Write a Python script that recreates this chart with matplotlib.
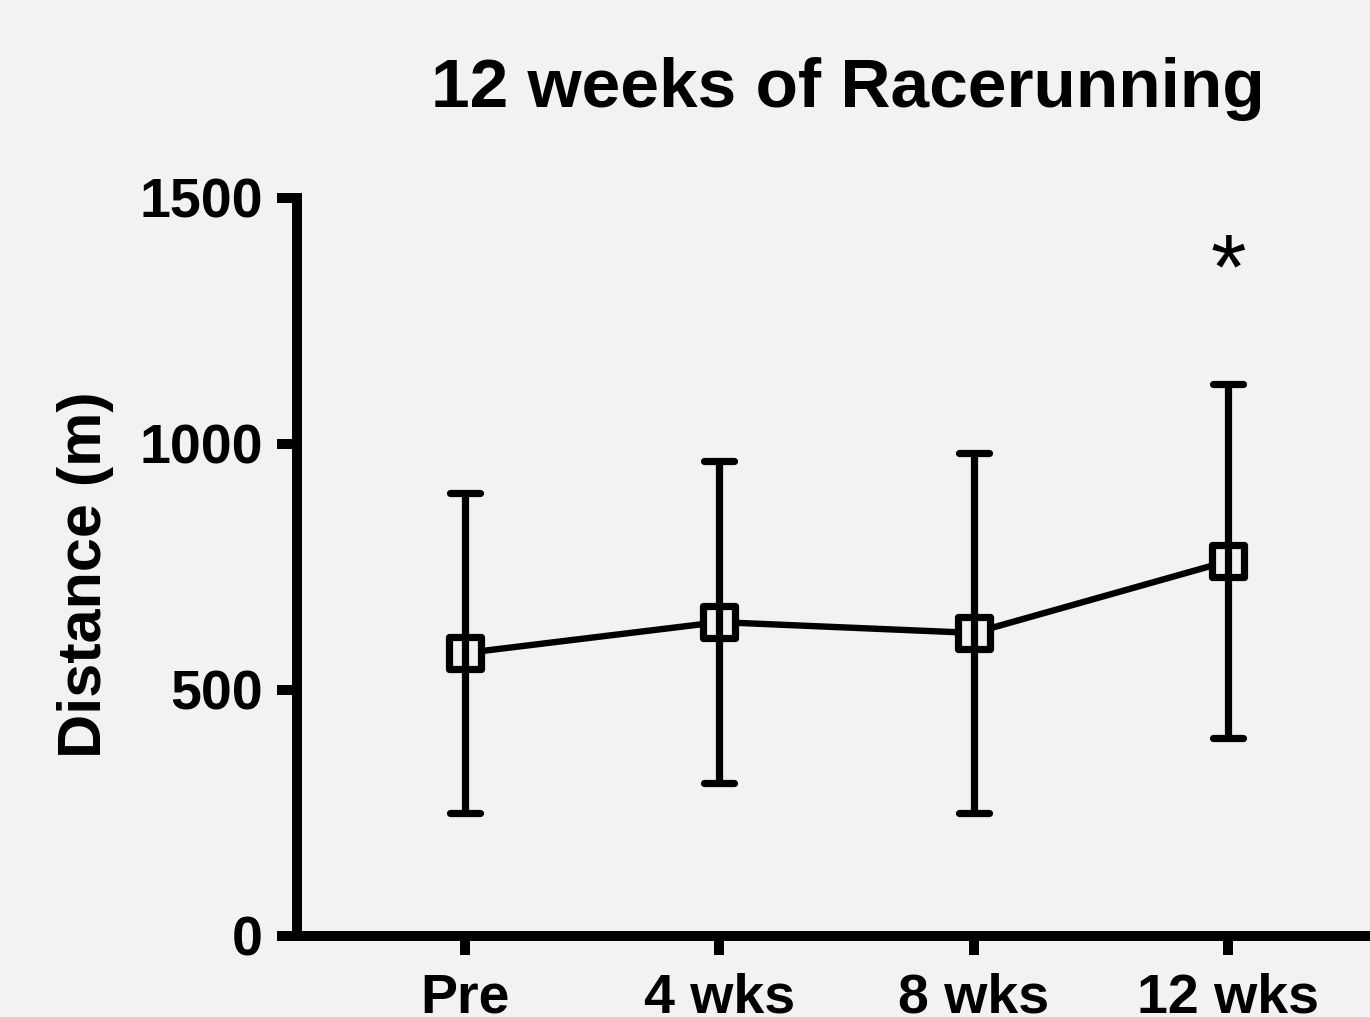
import numpy as np
import matplotlib.pyplot as plt
from matplotlib.markers import MarkerStyle

# =========================
# Data
# =========================
timepoints = ["Pre", "4 wks", "8 wks", "12 wks"]
distance_mean = [575, 638, 616, 762]   # m
distance_sd = [325, 327, 365, 360]     # m
significant = [False, False, False, True]
star_height = 1345

bg = "#f2f2f2"
plt.rcParams['font.family'] = ['Liberation Sans', 'DejaVu Sans']
plt.rcParams['font.weight'] = 'bold'

fig = plt.figure(figsize=(13.7, 10.17), dpi=100, facecolor=bg)
ax = fig.add_axes([297/1370, 1 - 936/1017, 1103/1370, 738/1017], facecolor=bg)

x = np.arange(len(timepoints))

# connecting line under everything
ax.plot(x, distance_mean, color='black', lw=4.6, zorder=2, solid_capstyle='round')

# open squares (filled with background so the line stops at the edge)
ax.plot(x, distance_mean, ls='none',
        marker=MarkerStyle('s', joinstyle='round'), ms=23,
        mfc=bg, mec='black', mew=5.2, zorder=3)

# error bars on top of markers
eb = ax.errorbar(x, distance_mean, yerr=distance_sd, fmt='none', ecolor='black',
                 elinewidth=5.2, capsize=22, capthick=5.2, zorder=4)
for cap in eb[1]:
    cap.set_marker(MarkerStyle('_', capstyle='round'))
    cap.set_markersize(22)

for xi, sig in zip(x, significant):
    if sig:
        ax.text(xi, star_height, "*", ha='center', va='center',
                fontsize=66, fontweight='normal')

ax.set_xlim(-0.659, 3.675)
ax.set_ylim(0, 1500)
ax.set_yticks([0, 500, 1000, 1500])
ax.set_xticks(x)
ax.set_xticklabels(timepoints)

for side in ['top', 'right']:
    ax.spines[side].set_visible(False)
for side in ['left', 'bottom']:
    ax.spines[side].set_linewidth(7.2)
    ax.spines[side].set_capstyle('projecting')

ax.tick_params(axis='y', length=14.4, width=7.2, labelsize=40, pad=10)
ax.tick_params(axis='x', length=14, width=7.2, labelsize=40, pad=12)

ax.set_ylabel("Distance (m)", fontsize=44, fontweight='bold')
ax.yaxis.set_label_coords(-0.166, 0.489)

fig.text(848/1370, 1 - 107/1017, "12 weeks of Racerunning",
         ha='center', va='baseline', fontsize=50, fontweight='bold')

fig.savefig("out.png", dpi=100, facecolor=bg)
